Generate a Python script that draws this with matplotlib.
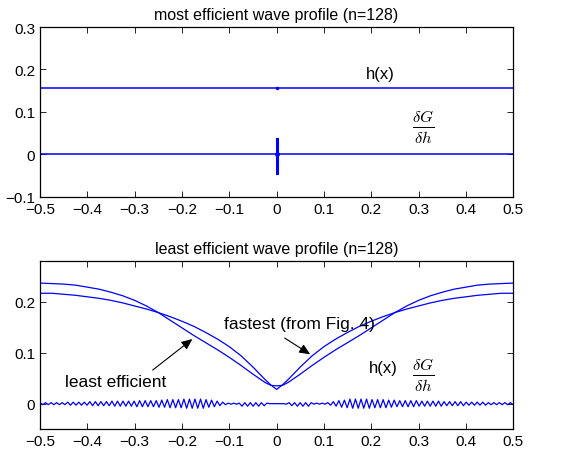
import numpy as np
import matplotlib
matplotlib.use("Agg")
from matplotlib import pyplot as plt

# --------------------------------------------------------------------------------------------------
# Data
# --------------------------------------------------------------------------------------------------

# top panel: most efficient profile (flat) and its gradient (zero except a spike at x=0)
top_x = [-0.5, 0.5]
top_h = [0.157, 0.157]
top_g_x = [-0.5, 0.0, 0.0, 0.0, 0.0, 0.5]
top_g = [0.0, 0.0, 0.0365, -0.044, 0.0, 0.0]

# bottom panel: the two profiles h(x)
prof_x = [-0.5, -0.475, -0.45, -0.425, -0.4, -0.375, -0.35, -0.325, -0.3, -0.275, -0.25,
          -0.225, -0.2, -0.175, -0.15, -0.125, -0.1, -0.075, -0.05, -0.025, -0.0125, 0.0,
          0.0125, 0.025, 0.05, 0.075, 0.1, 0.125, 0.15, 0.175, 0.2, 0.225, 0.25, 0.275,
          0.3, 0.325, 0.35, 0.375, 0.4, 0.425, 0.45, 0.475, 0.5]
fastest_h = [0.217, 0.217, 0.215, 0.213, 0.210, 0.207, 0.203, 0.198, 0.192, 0.186, 0.179,
             0.171, 0.162, 0.152, 0.140, 0.127, 0.112, 0.094, 0.072, 0.048, 0.037, 0.028,
             0.037, 0.048, 0.072, 0.094, 0.112, 0.127, 0.140, 0.152, 0.162, 0.171, 0.179,
             0.186, 0.192, 0.198, 0.203, 0.207, 0.210, 0.213, 0.215, 0.217, 0.217]
least_h = [0.237, 0.236, 0.235, 0.233, 0.229, 0.225, 0.219, 0.212, 0.203, 0.192, 0.179,
           0.164, 0.149, 0.134, 0.120, 0.106, 0.091, 0.075, 0.058, 0.042, 0.036, 0.035,
           0.036, 0.042, 0.058, 0.075, 0.091, 0.106, 0.120, 0.134, 0.149, 0.164, 0.179,
           0.192, 0.203, 0.212, 0.219, 0.225, 0.229, 0.233, 0.235, 0.236, 0.237]

# bottom panel: gradient dG/dh (in units of 1e-3), 172 samples over [-0.5, 0.5]
grad_milli = [
    2, -2, 2, -2, 2, -2, 2, -2, 2,
    -2, 3, -3, 3, -3, 3, -3, 3, -3,
    4, -4, 4, -4, 4, -4, 4, -4,
    5, -5, 5, -5, 5, -5, 5, -5, 5,
    -6, 6, -6, 6, -6, 6, -6, 6,
    -7, 7, -7, 8, -8, 8, -8, 8, -8,
    9, -9, 9, -9, 9, -9, 9, -9,
    8, -7, 7, -6, 5, -4, 3,
    -2, 1, -1, 1, -1, 1,
    -5, 2, -5, 2, -5, 2, -5, 2, -4, 1,
    0, 0, 0,
    0, 0, 0,
    -1, 2, -4, 2, -5, 2, -5, 2, -5, 2,
    -1, 1, -1, 1, -1, 2,
    -3, 4, -5, 6, -7, 7, -8,
    9, -9, 9, -9, 9, -9, 9, -9,
    8, -8, 8, -8, 8, -8, 7, -7, 7,
    -6, 6, -6, 6, -6, 6, -6, 6,
    -5, 5, -5, 5, -5, 5, -5, 5, -5,
    4, -4, 4, -4, 4, -4, 4, -4,
    3, -3, 3, -3, 3, -3, 3, -3, 2,
    -2, 2, -2, 2, -2, 2, -2, 2, -2,
]
grad = np.array(grad_milli) / 1000.0
grad_x = np.linspace(-0.5, 0.5, len(grad))

# --------------------------------------------------------------------------------------------------
# Plot
# --------------------------------------------------------------------------------------------------

plt.rcParams['font.family'] = ['Liberation Sans', 'DejaVu Sans']
plt.rcParams['mathtext.fontset'] = 'cm'
plt.rcParams['font.size'] = 11

blue = '#0000ff'
fig = plt.figure(figsize=(5.66, 4.6), dpi=100)
ax1 = fig.add_axes([0.0707, 0.570, 0.836, 0.369])
ax2 = fig.add_axes([0.0707, 0.065, 0.836, 0.365])

# top panel
ax1.plot(top_x, top_h, color=blue, lw=1.1)
ax1.plot(top_g_x, top_g, color=blue, lw=1.1)
ax1.plot([0.0, 0.0], [top_g[2], top_g[3]], color=blue, lw=2.2)
ax1.plot([0.0], [top_h[0]], '.', color=blue, ms=3)
ax1.plot([0.0], [0.0], '.', color=blue, ms=5)
ax1.set_xlim(-0.5, 0.5)
ax1.set_ylim(-0.1, 0.3)
ax1.set_yticks([-0.1, 0, 0.1, 0.2, 0.3])
ax1.set_yticklabels(['\u22120.1', '0', '0.1', '0.2', '0.3'])
ax1.set_title('most efficient wave profile (n=128)', fontsize=11.5, pad=6)
ax1.text(0.22, 0.19, 'h(x)', fontsize=12, ha='center', va='center')
ax1.text(0.31, 0.065, r'$\frac{\delta G}{\delta h}$', fontsize=17, ha='center', va='center')

# bottom panel
ax2.plot(prof_x, least_h, color=blue, lw=0.9)
ax2.plot(prof_x, fastest_h, color=blue, lw=0.9)
ax2.plot(grad_x, grad, color=blue, lw=0.9)
ax2.set_xlim(-0.5, 0.5)
ax2.set_ylim(-0.05, 0.28)
ax2.set_yticks([0, 0.1, 0.2])
ax2.set_yticklabels(['0', '0.1', '0.2'])
ax2.set_title('least efficient wave profile (n=128)', fontsize=11.5, pad=6)
ax2.text(0.225, 0.071, 'h(x)', fontsize=12, ha='center', va='center')
ax2.text(0.31, 0.057, r'$\frac{\delta G}{\delta h}$', fontsize=17, ha='center', va='center')

arrow = dict(arrowstyle='-|>,head_length=0.5,head_width=0.22', color='black', lw=0.8,
             mutation_scale=13, shrinkA=0, shrinkB=0)
ax2.text(0.048, 0.157, 'fastest (from Fig. 4)', fontsize=12.5, ha='center', va='center')
ax2.annotate('', xy=(0.071, 0.097), xytext=(0.017, 0.129), arrowprops=arrow)
ax2.text(-0.34, 0.044, 'least efficient', fontsize=12.5, ha='center', va='center')
ax2.annotate('', xy=(-0.178, 0.127), xytext=(-0.262, 0.066), arrowprops=arrow)

for ax in (ax1, ax2):
    ax.set_xticks(np.arange(-0.5, 0.51, 0.1))
    ax.set_xticklabels(['\u22120.5', '\u22120.4', '\u22120.3', '\u22120.2', '\u22120.1', '0',
                        '0.1', '0.2', '0.3', '0.4', '0.5'])
    ax.tick_params(direction='in', top=True, right=True, length=4, width=0.6, labelsize=11)
    for s in ax.spines.values():
        s.set_linewidth(0.9)

fig.savefig('out.png', dpi=100)
